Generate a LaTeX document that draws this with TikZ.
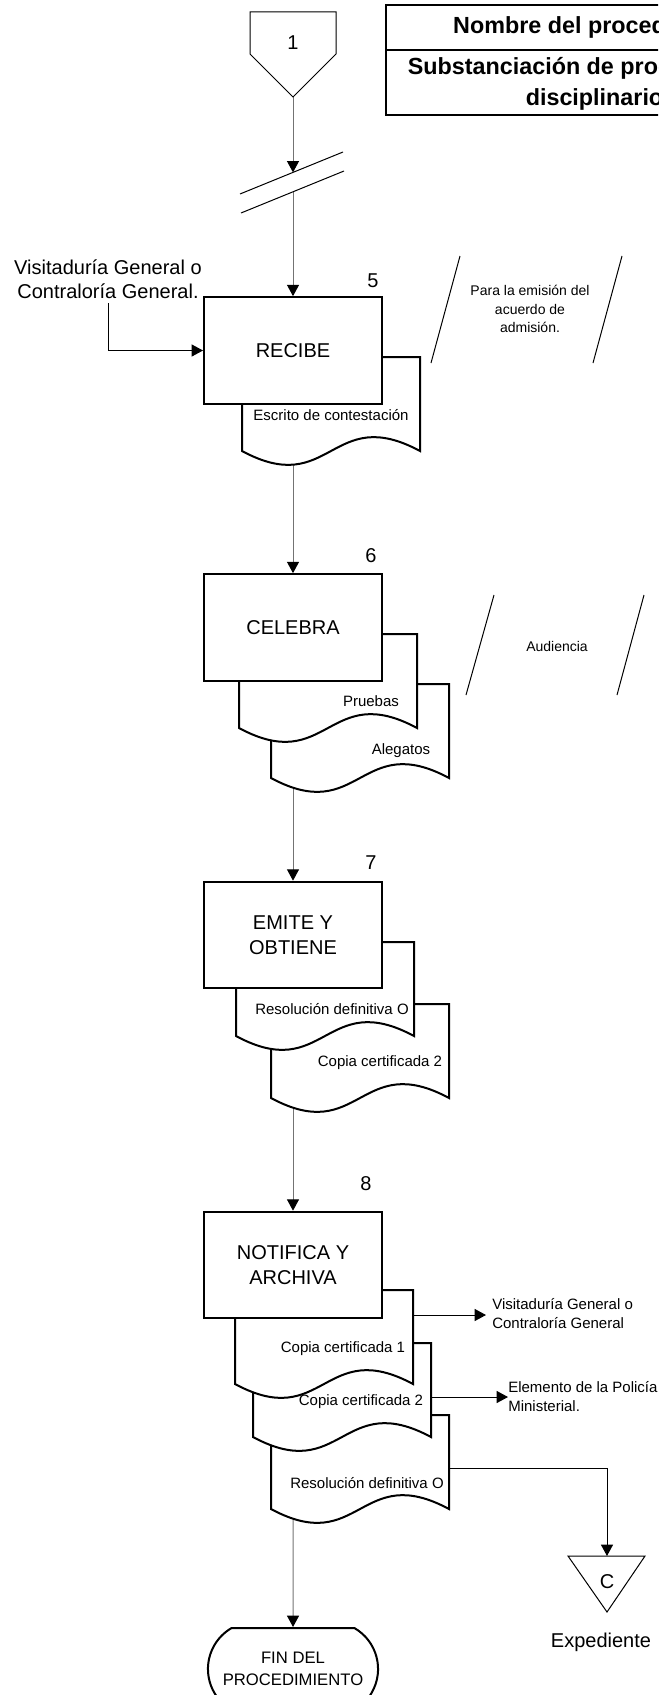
\documentclass[tikz,border=0pt]{standalone}
\usepackage{fontspec}
\setmainfont{Liberation Sans}
\usetikzlibrary{calc,positioning,arrows.meta,shapes.misc}

\pgfdeclarelayer{bg}
\pgfsetlayers{bg,main}

% sheet with a wavy lower edge: name, top left corner, text offset, text
\newcommand\docsheet[4]{%
  \coordinate (#1) at (#2);
  \filldraw[sheet] (#1) -- ($(#1)+(178,0)$) -- ($(#1)+(178,94)$)
    .. controls ($(#1)+(89,46)$) and ($(#1)+(89,142)$) .. ($(#1)+(0,94)$) -- cycle;
  \node[doctext] (#1-t) at ($(#1)+(#3)$) {#4};
}

\tikzset{
  procbox/.style={draw,fill=white,line width=1.5pt,minimum width=133.5pt,
    minimum height=80pt,align=center,font=\fontsize{15}{18.5}\selectfont},
  sheet/.style={fill=white,draw=black,line width=1.5pt},
  doctext/.style={inner sep=0pt,font=\fontsize{11.25}{13.5}\selectfont},
  stepnum/.style={inner sep=0pt,font=\fontsize{15}{18}\selectfont},
  headtext/.style={align=center,inner sep=0pt,font=\bfseries\fontsize{17.5}{23.25}\selectfont},
  notetext/.style={align=center,inner sep=0pt,font=\fontsize{10.5}{14}\selectfont},
  sidetext/.style={align=left,inner ysep=0pt,font=\fontsize{11.25}{14.25}\selectfont},
  flow/.style={draw=black!55,line width=.75pt,-{Triangle[length=8.5pt,width=9pt,color=black]}},
  conn/.style={draw=black,line width=.75pt,-{Triangle[length=8.5pt,width=9pt]}},
  slash/.style={line width=.75pt},
}

\begin{document}
\begin{tikzpicture}[x=0.75pt,y=-0.75pt]
  \useasboundingbox (0,0) rectangle (658,1695);
  \clip (0,0) rectangle (658,1695);

  % header
  \draw[line width=1.75pt] (386,5) rectangle (816,115);
  \draw[line width=1.75pt] (386,50) -- (816,50);
  \node[headtext] (hname) at (601,27) {Nombre del procedimiento};
  \node[headtext] (htitle) at (601,84) {Substanciación de procedimientos\\disciplinarios};

  % off-page connector and break
  \draw[line width=.75pt,fill=white] (250,12) -- (336,12) -- (336,54) -- (293,97) -- (250,54) -- cycle;
  \node[stepnum] (pg1) at (293,43) {1};
  \coordinate (pg1tip) at (293,97);
  \draw[slash] (240,194) -- (343,152);
  \draw[slash] (241,213) -- (344,171);
  \coordinate (brkA) at (293,172.4);
  \coordinate (brkB) at (293,191.8);

  % step 5
  \docsheet{d5}{242,357}{89,58}{Escrito de contestación}
  \node[procbox] (b5) at (293,350.5) {RECIBE};
  \node[stepnum] (s5) at (373,281) {5};
  \node[align=center,font=\fontsize{15}{18}\selectfont] (orig) at (108,279)
    {Visitaduría General o\\Contraloría General.};
  \node[notetext] (a5) at (530,309) {Para la emisión del\\acuerdo de\\admisión.};
  \draw[slash] ($(a5)+(-99,54)$) -- ($(a5)+(-70,-53)$);
  \draw[slash] ($(a5)+(63,54)$) -- ($(a5)+(92,-53)$);

  % step 6
  \docsheet{d6b}{271,684}{130,67}{Alegatos}
  \docsheet{d6a}{239,634}{132,67}{Pruebas}
  \node[procbox] (b6) at (293,627.5) {CELEBRA};
  \node[stepnum] (s6) at (371,556) {6};
  \node[notetext] (a6) at (557,646) {Audiencia};
  \draw[slash] ($(a6)+(-91,49)$) -- ($(a6)+(-63,-51)$);
  \draw[slash] ($(a6)+(60,49)$) -- ($(a6)+(87,-51)$);

  % step 7
  \docsheet{d7b}{271,1004}{109,59}{Copia certificada 2}
  \docsheet{d7a}{236,942}{96,67}{Resolución definitiva O}
  \node[procbox] (b7) at (293,935) {EMITE Y\\OBTIENE};
  \node[stepnum] (s7) at (371,863) {7};

  % step 8
  \docsheet{d8c}{271,1415}{96,68}{Resolución definitiva O}
  \docsheet{d8b}{253,1343}{108,59}{Copia certificada 2}
  \docsheet{d8a}{235,1290}{108,59}{Copia certificada 1}
  \node[procbox] (b8) at (293,1265) {NOTIFICA Y\\ARCHIVA};
  \node[stepnum] (s8) at (366,1184) {8};
  \coordinate (d8a-out) at ($(d8a)+(178,25)$);
  \coordinate (d8b-out) at ($(d8b)+(178,54)$);
  \coordinate (d8c-out) at ($(d8c)+(178,53)$);
  \node[sidetext,inner xsep=4.5pt,anchor=west] (dest1) at (486,1314)
    {Visitaduría General o\\Contraloría General};
  \node[sidetext,inner xsep=0pt,anchor=west] (dest2) at (508,1397)
    {Elemento de la Policía\\Ministerial.};

  % archive
  \draw[line width=.75pt] (568,1556) -- (645,1556) -- (607,1612) -- cycle;
  \node[stepnum] (arch) at (607,1582) {C};
  \coordinate (archtop) at (607,1556);
  \node[stepnum] (exp) at (601,1642) {Expediente};

  % end
  \node[rounded rectangle,rounded rectangle arc length=120,draw,line width=1.5pt,
    minimum width=134.25pt,minimum height=61.5pt,align=center,
    font=\fontsize{12.5}{16.5}\selectfont] (fin) at (293,1669) {FIN DEL\\PROCEDIMIENTO};

  \begin{pgfonlayer}{bg}
    \draw[flow] (pg1tip) -- (brkA);
    \draw[flow] (brkB) -- (b5);
    \draw[conn] (orig.south) |- (b5.west);
    \draw[flow] (b5) -- (b6);
    \draw[flow] (b6) -- (b7);
    \draw[flow] (b7) -- (b8);
    \draw[flow] (b8) -- (fin);
    \draw[conn] (d8a-out) -- (d8a-out -| dest1.west);
    \draw[conn] (d8b-out) -- (d8b-out -| dest2.west);
    \draw[conn] (d8c-out) -| (archtop);
  \end{pgfonlayer}
\end{tikzpicture}
\end{document}
